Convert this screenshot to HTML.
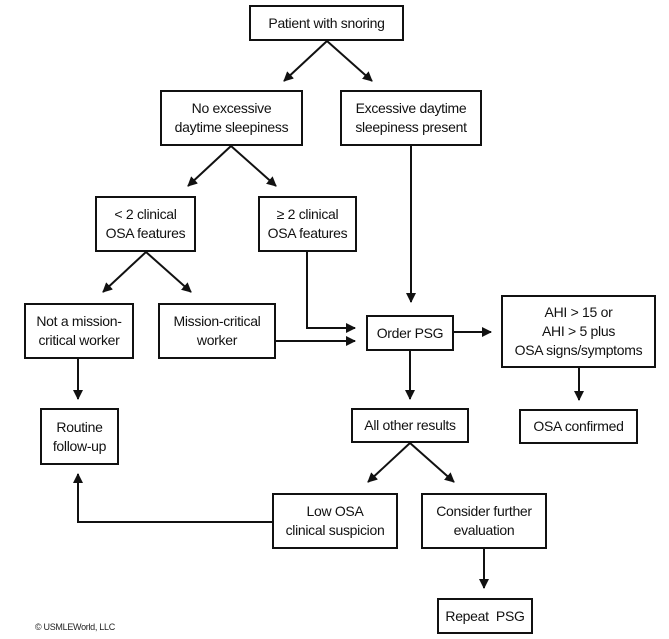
<!DOCTYPE html>
<html><head><meta charset="utf-8"><style>
body{margin:0;background:#fff;width:669px;height:639px;overflow:hidden;position:relative;font-family:"Liberation Sans",sans-serif}
.b{position:absolute;border:2px solid #111;box-sizing:border-box;display:flex;align-items:center;justify-content:center;text-align:center;font-size:14px;line-height:19px;color:#111;letter-spacing:-0.3px}
svg{position:absolute;left:0;top:0}
</style></head><body>
<svg width="669" height="639">
<defs><marker id="a" markerWidth="10" markerHeight="10" refX="9" refY="5" orient="auto" markerUnits="userSpaceOnUse"><path d="M0,0 L10,5 L0,10 z" fill="#111"/></marker></defs>
<g stroke="#111" stroke-width="2" fill="none" marker-end="url(#a)">
<line x1="327" y1="41" x2="284" y2="81"/>
<line x1="327" y1="41" x2="372" y2="81"/>
<line x1="231" y1="146" x2="188" y2="186"/>
<line x1="231" y1="146" x2="276" y2="186"/>
<line x1="146" y1="252" x2="103" y2="292"/>
<line x1="146" y1="252" x2="191" y2="292"/>
<line x1="411" y1="146" x2="411" y2="302"/>
<polyline points="307,252 307,328 355,328"/>
<line x1="276" y1="341" x2="355" y2="341"/>
<line x1="454" y1="332" x2="491" y2="332"/>
<line x1="78" y1="359" x2="78" y2="399"/>
<line x1="410" y1="351" x2="410" y2="399"/>
<line x1="579" y1="368" x2="579" y2="400"/>
<line x1="410" y1="443" x2="368" y2="482"/>
<line x1="410" y1="443" x2="454" y2="482"/>
<polyline points="272,522 78,522 78,474"/>
<line x1="484" y1="549" x2="484" y2="588"/>
</g></svg>
<div class="b" style="left:249px;top:5px;width:155px;height:36px">Patient with snoring</div>
<div class="b" style="left:160px;top:90px;width:143px;height:56px">No excessive<br>daytime sleepiness</div>
<div class="b" style="left:340px;top:90px;width:142px;height:56px">Excessive daytime<br>sleepiness present</div>
<div class="b" style="left:95px;top:196px;width:101px;height:56px">&lt; 2 clinical<br>OSA features</div>
<div class="b" style="left:258px;top:196px;width:99px;height:56px">≥ 2 clinical<br>OSA features</div>
<div class="b" style="left:24px;top:303px;width:110px;height:56px">Not a mission-<br>critical worker</div>
<div class="b" style="left:158px;top:303px;width:118px;height:56px">Mission-critical<br>worker</div>
<div class="b" style="left:366px;top:315px;width:88px;height:36px">Order PSG</div>
<div class="b" style="left:501px;top:295px;width:155px;height:73px">AHI &gt; 15 or<br>AHI &gt; 5 plus<br>OSA signs/symptoms</div>
<div class="b" style="left:40px;top:408px;width:79px;height:57px">Routine<br>follow-up</div>
<div class="b" style="left:351px;top:408px;width:118px;height:35px">All other results</div>
<div class="b" style="left:519px;top:409px;width:119px;height:35px">OSA confirmed</div>
<div class="b" style="left:272px;top:493px;width:126px;height:56px">Low OSA<br>clinical suspicion</div>
<div class="b" style="left:421px;top:493px;width:126px;height:56px">Consider further<br>evaluation</div>
<div class="b" style="left:437px;top:598px;width:96px;height:36px">Repeat&nbsp; PSG</div>
<div style="position:absolute;left:35px;top:622px;font-size:9px;color:#222;letter-spacing:-0.3px">© USMLEWorld, LLC</div>
</body></html>
